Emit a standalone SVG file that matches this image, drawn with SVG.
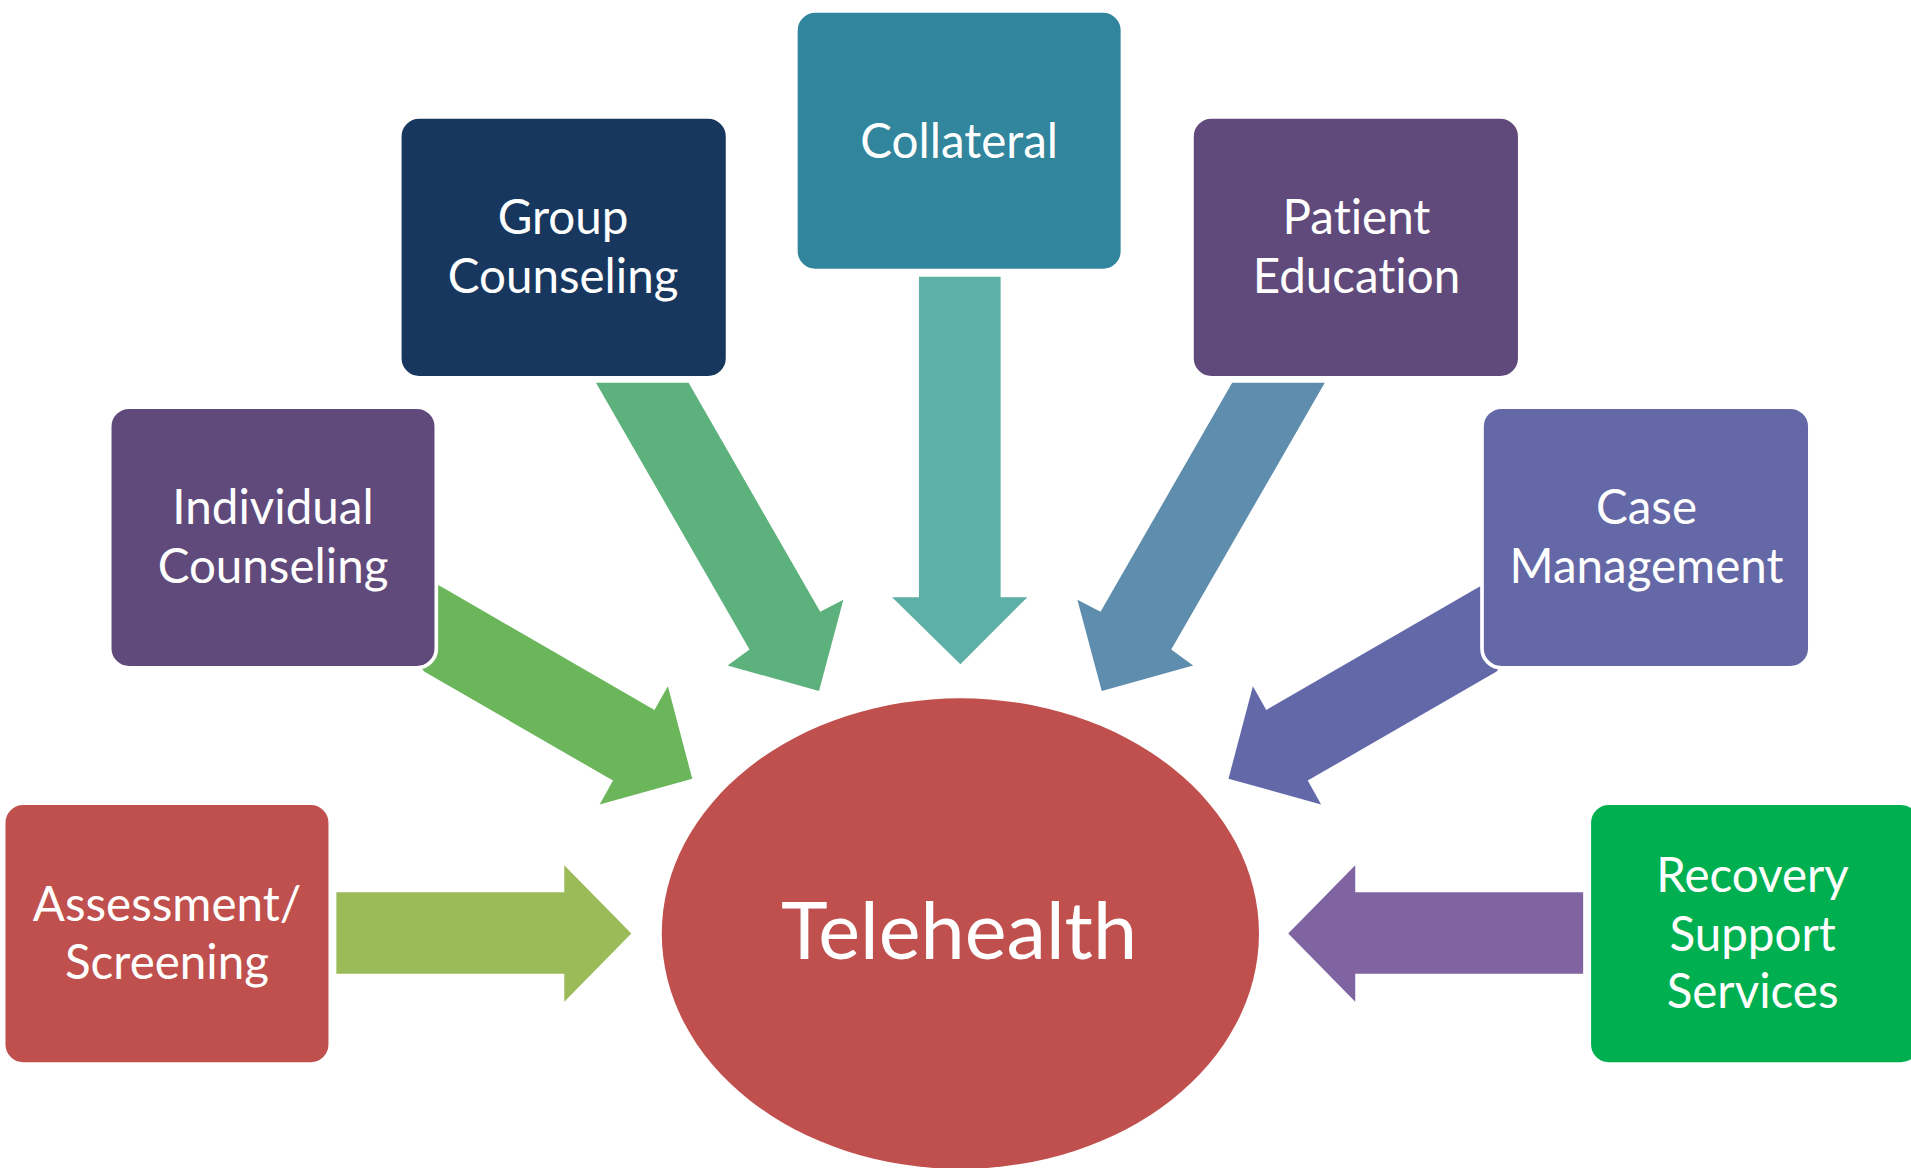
<svg xmlns="http://www.w3.org/2000/svg" width="1911" height="1168" viewBox="0 0 1911 1168">
<style>
.box{stroke:#ffffff;stroke-width:3}
.lbl{font-family:Lato,"Open Sans","Liberation Sans",sans-serif;font-size:39px;fill:#ffffff;text-anchor:middle;font-variant-ligatures:none}
.big{font-family:Lato,"Open Sans","Liberation Sans",sans-serif;font-size:65px;fill:#ffffff;text-anchor:middle;font-variant-ligatures:none}
</style>
<rect width="1911" height="1168" fill="#ffffff"/>
<g transform="scale(1.21875)">
<g id="connectors">
<polygon fill="#9BBB59" points="276,732 463,732 463,710 518,766 463,822 463,799 276,799"/>
<polygon fill="#8064A2" points="1299,732 1112,732 1112,710 1057,766 1112,822 1112,799 1299,799"/>
<polygon fill="#5EAFA5" points="754,227 821,227 821,490 843,490 788,545 732,490 754,490"/>
<polygon fill="#5DB17C" points="489,314 565,314 673,502 692,492 672,567 597,546 615,533"/>
<polygon fill="#5E8DAD" points="1087,314 1011,314 903,502 884,492 904,567 979,546 961,533"/>
<polygon fill="#6BB55B" points="340,470 364,482.5 537,582.5 548,563 568,639 492,660 503,640.5 348,551 340,540"/>
<polygon fill="#6369A8" points="1236,470 1212,482.5 1039,582.5 1028,563 1008,639 1084,660 1073,640.5 1228,551 1236,540"/>
</g>
<g id="node-telehealth">
<ellipse cx="788" cy="766" rx="245" ry="193" fill="#C0504D"/>
<text class="big" x="787" y="787">Telehealth</text>
</g>
<g id="node-assessment">
<rect class="box" x="3" y="659" width="268" height="214" rx="16" fill="#C0504D"/>
<text class="lbl" x="137" y="756">Assessment/</text>
<text class="lbl" x="137" y="803">Screening</text>
</g>
<g id="node-individual">
<rect class="box" x="90" y="334" width="268" height="214" rx="16" fill="#604A7B"/>
<text class="lbl" x="224" y="430">Individual</text>
<text class="lbl" x="224" y="478">Counseling</text>
</g>
<g id="node-group">
<rect class="box" x="328" y="96" width="269" height="214" rx="16" fill="#17375E"/>
<text class="lbl" x="462" y="192">Group</text>
<text class="lbl" x="462" y="240">Counseling</text>
</g>
<g id="node-collateral">
<rect class="box" x="653" y="9" width="268" height="213" rx="16" fill="#31859C"/>
<text class="lbl" x="787" y="130">Collateral</text>
</g>
<g id="node-patient">
<rect class="box" x="978" y="96" width="269" height="214" rx="16" fill="#604A7B"/>
<text class="lbl" x="1113" y="192">Patient</text>
<text class="lbl" x="1113" y="240">Education</text>
</g>
<g id="node-case">
<rect class="box" x="1216" y="334" width="269" height="214" rx="16" fill="#6468A6"/>
<text class="lbl" x="1351" y="430">Case</text>
<text class="lbl" x="1351" y="478">Management</text>
</g>
<g id="node-recovery">
<rect class="box" x="1304" y="659" width="272" height="214" rx="16" fill="#00B050"/>
<text class="lbl" x="1438" y="732">Recovery</text>
<text class="lbl" x="1438" y="780">Support</text>
<text class="lbl" x="1438" y="827">Services</text>
</g>
</g>
</svg>
